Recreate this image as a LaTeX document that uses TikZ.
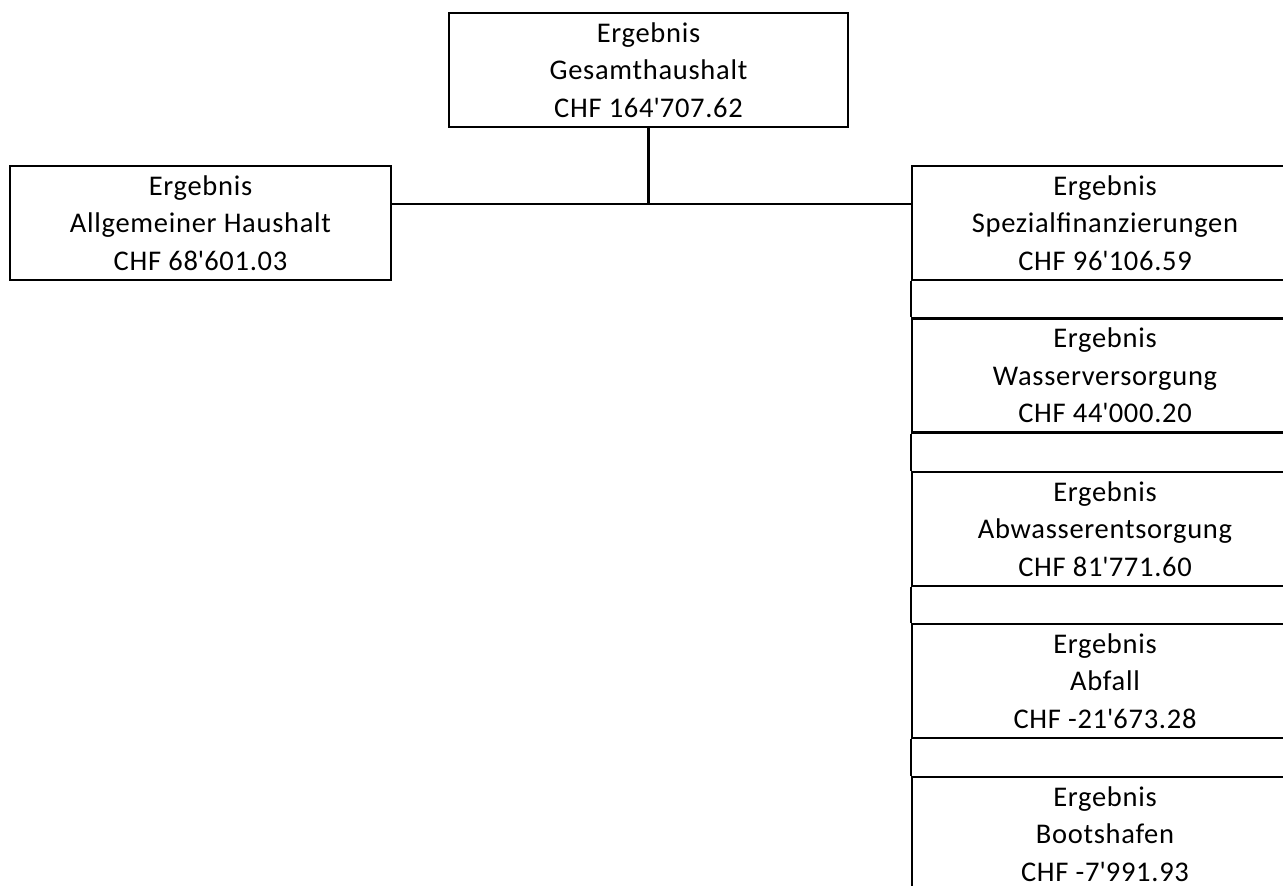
\documentclass[tikz,border=0pt]{standalone}
\usepackage{fontspec}
\setmainfont{Carlito}[LetterSpace=2.5]
\newcommand\apos{\textquotesingle}
\begin{document}
\begin{tikzpicture}[x=1pt,y=-1pt,
  orgbox/.style={draw=black, line width=2.4pt, fill=white, rectangle, inner sep=0pt,
    minimum height=114pt, align=center,
    font=\fontsize{28.5}{37.5}\selectfont},
  link/.style={draw=black, line width=2.8pt},
  gaplink/.style={draw=black, line width=2.4pt}]
\useasboundingbox (0,0) rectangle (1283,886);
\clip (0,0) rectangle (1283,886);
\node[orgbox, minimum width=399pt] (top) at (648.5,70) {Ergebnis\\Gesamthaushalt\\CHF 164\apos 707.62};
\node[orgbox, minimum width=381pt] (left) at (200.5,223) {Ergebnis\\Allgemeiner Haushalt\\CHF 68\apos 601.03};
\node[orgbox, minimum width=386pt] (r1) at (1105,223) {Ergebnis\\Spezialfinanzierungen\\CHF 96\apos 106.59};
\node[orgbox, minimum width=386pt] (r2) at (1105,375.5) {Ergebnis\\Wasserversorgung\\CHF 44\apos 000.20};
\node[orgbox, minimum width=386pt] (r3) at (1105,529) {Ergebnis\\Abwasserentsorgung\\CHF 81\apos 771.60};
\node[orgbox, minimum width=386pt] (r4) at (1105,681) {Ergebnis\\Abfall\\CHF -21\apos 673.28};
\node[orgbox, minimum width=386pt] (r5) at (1105,834) {Ergebnis\\Bootshafen\\CHF -7\apos 991.93};
\coordinate (j) at (648.5,204);
\draw[link] (top.south) -- (j);
\draw[link] (left.east |- j) -- (r1.west |- j);
\draw[gaplink] (r1.south west) -- (r2.north west);
\draw[gaplink] (r2.south west) -- (r3.north west);
\draw[gaplink] (r3.south west) -- (r4.north west);
\draw[gaplink] (r4.south west) -- (r5.north west);
\end{tikzpicture}
\end{document}
